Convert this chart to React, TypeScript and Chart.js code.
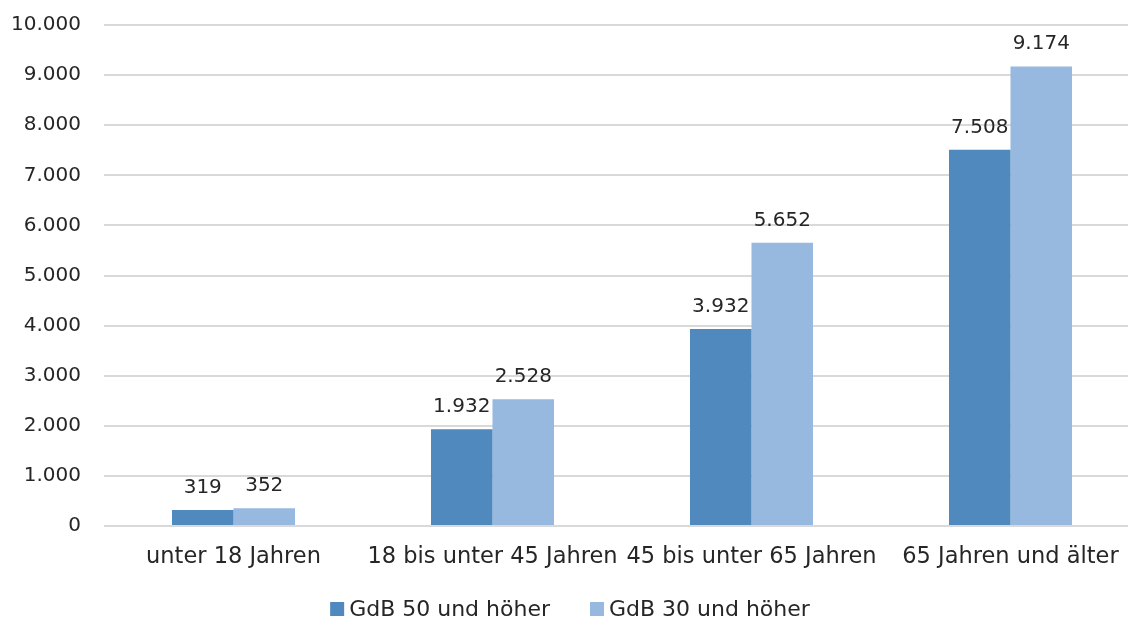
import React, { useEffect, useRef } from "react";
import { Chart, registerables } from "chart.js";

Chart.register(...registerables);

const categories = [
  "unter 18 Jahren",
  "18 bis unter 45 Jahren",
  "45 bis unter 65 Jahren",
  "65 Jahren und älter",
];
const gdb50 = [319, 1932, 3932, 7508];
const gdb30 = [352, 2528, 5652, 9174];
const seriesNames = ["GdB 50 und höher", "GdB 30 und höher"];
const seriesColors = ["#4F89BE", "#97B8DF"];

const FONT = "'DejaVu Sans', sans-serif";
const TEXT = "#262626";

const fmt = (v: number) =>
  String(Math.round(v)).replace(/\B(?=(\d{3})+(?!\d))/g, ".");

// Value labels above each bar
const valueLabels = {
  id: "valueLabels",
  afterDatasetsDraw(chart: any) {
    const ctx = chart.ctx;
    ctx.save();
    ctx.font = `20px ${FONT}`;
    ctx.fillStyle = TEXT;
    ctx.textAlign = "center";
    ctx.textBaseline = "alphabetic";
    chart.data.datasets.forEach((ds: any, i: number) => {
      const meta = chart.getDatasetMeta(i);
      meta.data.forEach((el: any, j: number) => {
        ctx.fillText(fmt(ds.data[j]), el.x, el.y - 17);
      });
    });
    ctx.restore();
  },
};

// Legend row under the chart
const bottomLegend = {
  id: "bottomLegend",
  afterDraw(chart: any) {
    const ctx = chart.ctx;
    const box = 14;
    const boxGap = 5;
    const itemGap = 40;
    const cy = chart.height - 10;
    const centerX = 570;
    ctx.save();
    ctx.font = `22px ${FONT}`;
    ctx.textBaseline = "middle";
    ctx.textAlign = "left";
    const items = chart.data.datasets.map((ds: any) => ({
      text: ds.label,
      color: ds.backgroundColor,
      w: ctx.measureText(ds.label).width,
    }));
    const total =
      items.reduce((s: number, it: any) => s + box + boxGap + it.w, 0) +
      itemGap * (items.length - 1);
    let x = centerX - total / 2;
    items.forEach((it: any) => {
      ctx.fillStyle = it.color;
      ctx.fillRect(x, cy - box / 2, box, box);
      x += box + boxGap;
      ctx.fillStyle = TEXT;
      ctx.fillText(it.text, x, cy + 1);
      x += it.w + itemGap;
    });
    ctx.restore();
  },
};

export default function App() {
  const ref = useRef<HTMLCanvasElement>(null);

  useEffect(() => {
    if (!ref.current) return;
    const chart = new Chart(ref.current, {
      type: "bar",
      data: {
        labels: categories,
        datasets: [
          { label: seriesNames[0], data: gdb50, backgroundColor: seriesColors[0] },
          { label: seriesNames[1], data: gdb30, backgroundColor: seriesColors[1] },
        ],
      },
      options: {
        responsive: false,
        animation: false,
        layout: { padding: { top: 25, right: 26, left: 0, bottom: 30 } },
        datasets: {
          bar: { barPercentage: 1, categoryPercentage: 0.475 },
        },
        scales: {
          x: {
            grid: { display: false, drawTicks: false },
            border: { display: false },
            ticks: {
              autoSkip: false,
              maxRotation: 0,
              minRotation: 0,
              padding: 18,
              color: TEXT,
              font: { family: FONT, size: 22.5 },
            },
          },
          y: {
            min: 0,
            max: 10000,
            afterFit: (scale: any) => {
              scale.width = 104;
              scale.paddingTop = 0;
              scale.paddingBottom = 0;
            },
            grid: { color: "#D9D9D9", lineWidth: 2, drawTicks: false },
            border: { display: false },
            ticks: {
              stepSize: 1000,
              padding: 23,
              color: TEXT,
              font: { family: FONT, size: 20 },
              callback: (v: any) => fmt(Number(v)),
            },
          },
        },
        plugins: {
          legend: { display: false },
          tooltip: { enabled: false },
        },
      },
      plugins: [valueLabels, bottomLegend],
    });
    return () => chart.destroy();
  }, []);

  return (
    <div
      style={{
        position: "absolute",
        left: 0,
        top: 0,
        width: 1128,
        height: 619,
        overflow: "hidden",
        background: "#fff",
      }}
    >
      <canvas ref={ref} width={1166} height={619} />
    </div>
  );
}
